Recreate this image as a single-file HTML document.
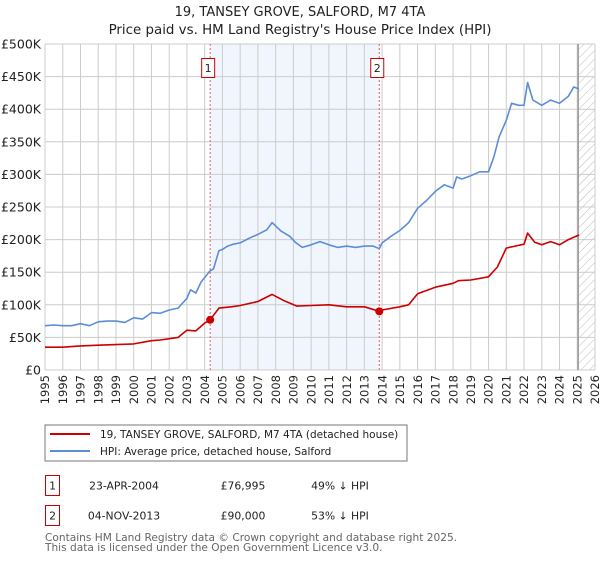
<!DOCTYPE html>
<html><head><meta charset="utf-8"><style>
body{margin:0;background:#fff;width:600px;height:560px;overflow:hidden;font-family:"DejaVu Sans","Liberation Sans",sans-serif}
svg text{font-family:"DejaVu Sans","Liberation Sans",sans-serif}
</style></head><body>
<svg id="chart" width="600" height="560">
<defs><pattern id="hatch" width="6" height="6" patternUnits="userSpaceOnUse" patternTransform="rotate(45)"><line x1="0" y1="0" x2="0" y2="6" stroke="#bbb" stroke-width="1"/></pattern></defs>
<text x="300" y="16" text-anchor="middle" font-size="13" fill="#222">19, TANSEY GROVE, SALFORD, M7 4TA</text>
<text x="300" y="34" text-anchor="middle" font-size="13.4" fill="#222">Price paid vs. HM Land Registry's House Price Index (HPI)</text>
<g id="plot"></g>
<rect x="45" y="425" width="362" height="36" fill="#fff" stroke="#777"/>
<line x1="50" y1="434" x2="90" y2="434" stroke="#cc0000" stroke-width="2"/>
<text x="100" y="438" font-size="10.5" fill="#222">19, TANSEY GROVE, SALFORD, M7 4TA (detached house)</text>
<line x1="50" y1="451" x2="90" y2="451" stroke="#5b8ed6" stroke-width="2"/>
<text x="100" y="455" font-size="10.5" fill="#222">HPI: Average price, detached house, Salford</text>
<g font-size="10.8" fill="#222">
<rect x="45.5" y="475.5" width="14" height="20" fill="none" stroke="#cc0000"/>
<text x="52.5" y="489.5" text-anchor="middle">1</text>
<text x="124" y="489.5" text-anchor="middle">23-APR-2004</text>
<text x="243" y="489.5" text-anchor="middle">£76,995</text>
<text x="340" y="489.5" text-anchor="middle">49% ↓ HPI</text>
<rect x="45.5" y="505.5" width="14" height="20" fill="none" stroke="#cc0000"/>
<text x="52.5" y="519.5" text-anchor="middle">2</text>
<text x="124" y="519.5" text-anchor="middle">04-NOV-2013</text>
<text x="243" y="519.5" text-anchor="middle">£90,000</text>
<text x="340" y="519.5" text-anchor="middle">53% ↓ HPI</text>
</g>
<text x="45" y="541" font-size="10.6" fill="#666">Contains HM Land Registry data © Crown copyright and database right 2025.</text>
<text x="45" y="551" font-size="10.6" fill="#666">This data is licensed under the Open Government Licence v3.0.</text>
</svg>
<script>
const hpiYears=[1995,1995.5,1996,1996.5,1997,1997.5,1998,1998.5,1999,1999.5,2000,2000.5,2001,2001.5,2002,2002.5,2003,2003.2,2003.5,2003.8,2004.3,2004.5,2004.8,2005,2005.3,2005.6,2006,2006.5,2007,2007.5,2007.8,2008.3,2008.8,2009.1,2009.5,2010,2010.5,2011,2011.5,2012,2012.5,2013,2013.5,2013.84,2014,2014.5,2015,2015.5,2016,2016.5,2017,2017.5,2018,2018.2,2018.5,2019,2019.5,2020,2020.3,2020.6,2021,2021.3,2021.7,2022,2022.2,2022.5,2023,2023.5,2024,2024.5,2024.8,2025.1];
const hpiValues=[68,69,68,68,71,68,74,75,75,73,80,78,88,87,92,95,110,123,118,135,152,155,183,185,190,193,195,202,208,215,226,213,205,196,188,192,197,192,188,190,188,190,190,186,195,205,214,226,248,260,274,284,279,296,293,298,304,304,327,358,383,409,406,406,441,414,406,414,409,420,434,431];
const ppYears=[1995,1996,1997,1998,1999,2000,2001,2001.5,2002,2002.5,2003,2003.5,2004,2004.31,2004.8,2005.5,2006,2007,2007.8,2008.5,2009.2,2010,2011,2012,2013,2013.84,2014,2015,2015.5,2016,2016.5,2017,2018,2018.3,2019,2020,2020.5,2021,2021.5,2022,2022.2,2022.6,2023,2023.5,2024,2024.5,2025.1];
const ppValues=[35,35,37,38,39,40,45,46,48,50,61,60,72,77,95,97,99,105,116,106,98,99,100,97,97,90,92,97,100,117,122,127,133,137,138,143,158,187,190,193,210,196,192,197,192,200,207];
const saleYears=[2004.31,2013.84];
const saleValues=[76.995,90];
const yTicks=[0,50,100,150,200,250,300,350,400,450,500];
const yTickLabels=["£0","£50K","£100K","£150K","£200K","£250K","£300K","£350K","£400K","£450K","£500K"];
const xTicks=[1995,1996,1997,1998,1999,2000,2001,2002,2003,2004,2005,2006,2007,2008,2009,2010,2011,2012,2013,2014,2015,2016,2017,2018,2019,2020,2021,2022,2023,2024,2025,2026];
const X0=45,X1=595,Y0=370,Y1=44;
const xs=v=>X0+(v-1995)/31*(X1-X0);
const ys=v=>Y0-v/500*(Y0-Y1);
const NS="http://www.w3.org/2000/svg";
const g=document.getElementById('plot');
function mk(t,a){const e=document.createElementNS(NS,t);for(const k in a)e.setAttribute(k,a[k]);g.appendChild(e);return e;}
let r=mk('rect',{x:xs(saleYears[0]),y:Y1,width:xs(saleYears[1])-xs(saleYears[0]),height:Y0-Y1,fill:'#eef3fc',opacity:0.8});


let h=mk('rect',{x:xs(2025.05),y:Y1,width:X1-xs(2025.05),height:Y0-Y1,fill:'url(#hatch)'});


yTicks.forEach((v,i)=>{
 let l=mk('line',{x1:X0,x2:X1,y1:ys(v),y2:ys(v),stroke:'#ccc','stroke-width':1});
 
 
 let t=mk('text',{x:41,y:ys(v)+4.5,'text-anchor':'end','font-size':12.5,fill:'#222'});
 t.textContent=yTickLabels[i];
 
 
});
xTicks.forEach(v=>{
 let l=mk('line',{x1:xs(v),x2:xs(v),y1:Y1,y2:Y0,stroke:'#ccc','stroke-width':1});
 
 
 let t=mk('text',{x:0,y:0,'text-anchor':'end','font-size':11.5,fill:'#222',transform:'translate('+(xs(v)+4.2)+',375) rotate(-90)'});
 t.textContent=v;
 
 
});
let b=mk('line',{x1:xs(2025.05),x2:xs(2025.05),y1:Y1,y2:Y0,stroke:'#999','stroke-width':1.5});


saleYears.forEach((v,i)=>{
 let l=mk('line',{x1:xs(v),x2:xs(v),y1:Y1,y2:Y0,stroke:'#e06060','stroke-width':1,'stroke-dasharray':'2,2'});
 
 
 let bx=mk('rect',{x:xs(v)-8.5,y:58.5,width:13,height:19,fill:'#fff',stroke:'#cc0000'});
 
 
 let t=mk('text',{x:xs(v)-2,y:72,'text-anchor':'middle','font-size':11,fill:'#222'});
 t.textContent=i+1;
 
 
});
function path(xa,va,color,name){
 let d=xa.map((x,i)=>(i?'L':'M')+xs(x).toFixed(1)+','+ys(va[i]).toFixed(1)).join('');
 let p=mk('path',{d:d,fill:'none',stroke:color,'stroke-width':1.6,'stroke-linejoin':'round'});
 
 
}
path(hpiYears,hpiValues,'#5b8ed6','hpi-line');
path(ppYears,ppValues,'#cc0000','price-paid-line');
saleYears.forEach((v,i)=>{
 let c=mk('circle',{cx:xs(v),cy:ys(saleValues[i]),r:4,fill:'#cc0000'});
 
 
});
</script>
</body></html>
